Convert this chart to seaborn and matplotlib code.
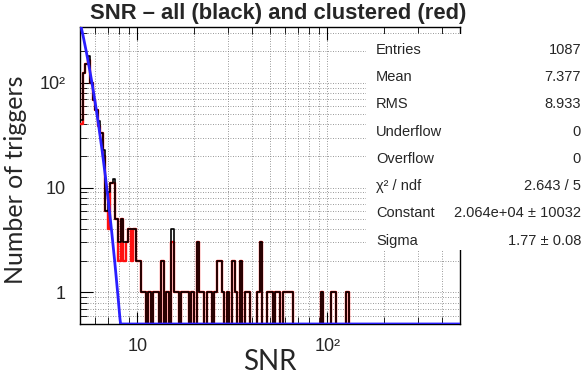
import numpy as np
import matplotlib
matplotlib.use("Agg")
import matplotlib.pyplot as plt
import seaborn as sns
from matplotlib.ticker import FixedLocator, FixedFormatter, NullFormatter, LogLocator

# SNR histogram, 150 log-spaced bins between 5 and 500
snr_lo, snr_hi, n_bins = 5.0, 500.0, 150

# all triggers (black)
all_counts = [
    44, 123, 151, 181, 99, 69, 55, 43, 33, 23,
    6, 9, 11, 12, 5, 3, 5, 3, 3, 4,
    4, 4, 2, 2, 1, 1, 0, 1, 0, 1,
    1, 0, 2, 0, 1, 0, 4, 1, 1, 0,
    1, 1, 1, 0, 1, 0, 3, 1, 1, 0,
    1, 1, 0, 1, 2, 2, 1, 0, 1, 0,
    2, 1, 0, 2, 0, 1, 1, 0, 0, 0,
    1, 3, 0, 0, 1, 1, 0, 1, 1, 0,
    1, 1, 1, 1, 0, 0, 0, 0, 0, 0,
    0, 0, 0, 0, 0, 1, 0, 0, 0, 1,
    1, 0, 0, 0, 0, 1, 0, 0, 0, 0,
    0, 0, 0, 0, 0, 0, 0, 0, 0, 0,
    0, 0, 0, 0, 0, 0, 0, 0, 0, 0,
    0, 0, 0, 0, 0, 0, 0, 0, 0, 0,
    0, 0, 0, 0, 0, 0, 0, 0, 0, 0,
]

# clustered triggers (red)
clu_counts = [
    40, 123, 151, 165, 99, 69, 55, 39, 33, 20,
    6, 4, 11, 11, 5, 2, 5, 2, 3, 4,
    2, 4, 2, 2, 1, 1, 0, 1, 0, 1,
    1, 0, 2, 0, 1, 0, 3, 1, 1, 0,
    1, 1, 1, 0, 1, 0, 3, 1, 1, 0,
    1, 1, 0, 1, 2, 2, 1, 0, 1, 0,
    2, 1, 0, 2, 0, 1, 1, 0, 0, 0,
    1, 3, 0, 0, 1, 1, 0, 1, 1, 0,
    1, 1, 1, 1, 0, 0, 0, 0, 0, 0,
    0, 0, 0, 0, 0, 1, 0, 0, 0, 1,
    1, 0, 0, 0, 0, 1, 0, 0, 0, 0,
    0, 0, 0, 0, 0, 0, 0, 0, 0, 0,
    0, 0, 0, 0, 0, 0, 0, 0, 0, 0,
    0, 0, 0, 0, 0, 0, 0, 0, 0, 0,
    0, 0, 0, 0, 0, 0, 0, 0, 0, 0,
]

# gaussian fit shown in the stats box
fit_constant = 2.064e4
fit_sigma = 1.77

stat_labels = ["Entries", "Mean", "RMS", "Underflow", "Overflow",
               "\u03c7\u00b2 / ndf", "Constant", "Sigma"]
stat_values = ["1087", "7.377", "8.933", "0", "0", "2.643 / 5",
               "2.064e+04 \u00b1 10032", "1.77 \u00b1 0.08"]

sns.set_style("ticks")
plt.rcParams["font.family"] = ["Liberation Sans", "DejaVu Sans"]

W, H = 587, 379
fig = plt.figure(figsize=(W / 100, H / 100), dpi=100)
ax = fig.add_axes([80 / W, 1 - 324 / H, 380 / W, 297 / H])

log_lo, log_hi = np.log10(snr_lo), np.log10(snr_hi)
step = (log_hi - log_lo) / n_bins
centers = 10 ** (log_lo + (np.arange(n_bins) + 0.5) * step)

sns.histplot(x=centers, weights=clu_counts, bins=n_bins, binrange=(log_lo, log_hi),
             log_scale=True, element="step", fill=False, color="#ff1010",
             linewidth=1.7, ax=ax, zorder=3)
sns.histplot(x=centers, weights=all_counts, bins=n_bins, binrange=(log_lo, log_hi),
             log_scale=True, element="step", fill=False, color="black",
             linewidth=1.2, ax=ax, zorder=4)

# fitted gaussian (ROOT draws it on the frame floor where it drops below range)
snr_grid = np.logspace(log_lo, log_hi, 600)
fit_vals = fit_constant * np.exp(-0.5 * (snr_grid / fit_sigma) ** 2)
ax.plot(snr_grid, np.maximum(fit_vals, 0.5), color="#2a1fff", lw=2.0, zorder=5)

ax.set_yscale("log")
ax.set_xlim(snr_lo, snr_hi)
ax.set_ylim(0.5, 340)
ax.set_xlabel("")
ax.set_ylabel("")

ax.xaxis.set_major_locator(FixedLocator([10, 100]))
ax.xaxis.set_major_formatter(FixedFormatter(["10", "10\u00b2"]))
ax.xaxis.set_minor_locator(LogLocator(base=10, subs=np.arange(2, 10)))
ax.xaxis.set_minor_formatter(NullFormatter())
ax.yaxis.set_major_locator(FixedLocator([1, 10, 100]))
ax.yaxis.set_major_formatter(FixedFormatter(["1", "10", "10\u00b2"]))
ax.yaxis.set_minor_locator(LogLocator(base=10, subs=np.arange(2, 10)))
ax.yaxis.set_minor_formatter(NullFormatter())

ax.grid(True, which="both", linestyle=(0, (1, 2)), color="#777777", linewidth=0.6)
ax.tick_params(which="both", direction="in", top=True, right=False,
               labelsize=13, color="black")
ax.tick_params(which="major", length=9, pad=10)
ax.tick_params(which="minor", length=5)
for s in ax.spines.values():
    s.set_linewidth(1.0)
    s.set_color("black")

# stats box
box = fig.add_axes([366 / W, 1 - 250 / H, 1 - 366 / W, 216 / H])
box.set_facecolor("white")
box.set_xticks([])
box.set_yticks([])
for s in box.spines.values():
    s.set_visible(False)

row_y = [50, 77, 104, 132, 159, 186, 213, 241]
for lab, val, y in zip(stat_labels, stat_values, row_y):
    fig.text(376 / W, 1 - y / H, lab, ha="left", va="center", fontsize=10.5)
    fig.text(581 / W, 1 - y / H, val, ha="right", va="center", fontsize=10.5)

fig.text(278 / W, 1 - 14 / H, "SNR \u2013 all (black) and clustered (red)",
         ha="center", va="center", fontsize=15.8, fontweight="bold")
fig.text(270 / W, 1 - 362 / H, "SNR", ha="center", va="center", fontsize=20,
         family=["Lato", "DejaVu Sans"])
fig.text(16 / W, 1 - 180 / H, "Number of triggers", ha="center", va="center",
         rotation=90, fontsize=18, family=["Lato", "DejaVu Sans"])

fig.savefig("out.png", dpi=100)
